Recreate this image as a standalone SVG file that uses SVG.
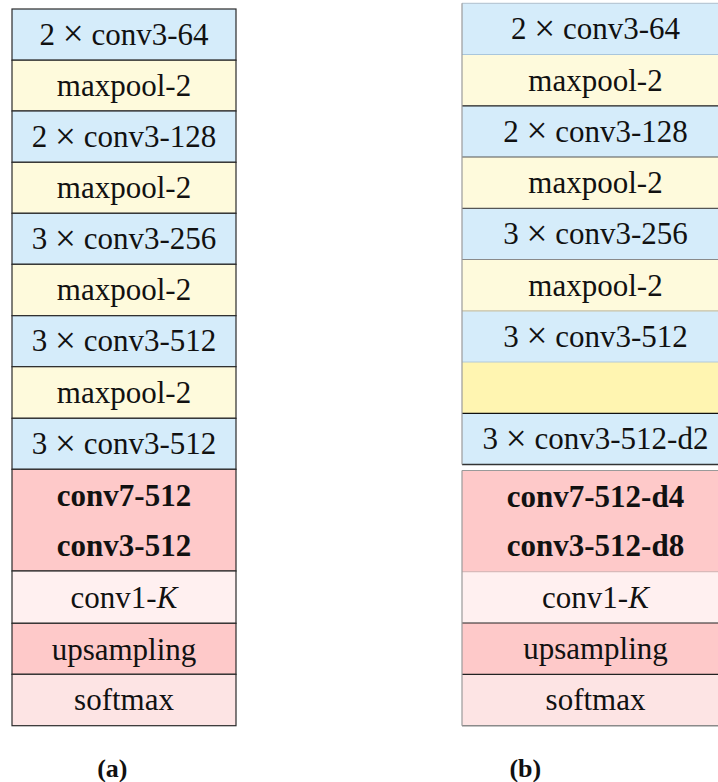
<svg xmlns="http://www.w3.org/2000/svg" width="718" height="782" viewBox="0 0 718 782">
<style>
  .t { font-family: "Liberation Serif", "Times New Roman", serif; font-size: 31px; fill: #111; text-anchor: middle; }
  .b { font-weight: bold; }
  .x { font-size: 37px; }
  .cap { font-family: "Liberation Serif", "Times New Roman", serif; font-size: 26px; font-weight: bold; fill: #111; text-anchor: middle; }
  .blue { fill: #d5ecfa; }
  .cream { fill: #fefadc; }
  .yel { fill: #fff5b1; }
  .pink { fill: #fec9c9; }
  .lpink { fill: #fff0f0; }
  .spink { fill: #fde4e4; }
  .L rect { stroke: #2b2b2b; stroke-width: 1.2; }
  .R rect { stroke: none; }
  .ln { stroke-width: 1.2; fill: none; }
</style>
<rect width="718" height="782" fill="#ffffff"/>

<!-- Column (a) -->
<g class="L">
  <g id="a1"><rect class="blue" x="12" y="9" width="224" height="51.2"/><text class="t" x="124" y="44.6">2 <tspan class="x" dy="1.5">×</tspan><tspan dy="-1.5"> conv3-64</tspan></text></g>
  <g id="a2"><rect class="cream" x="12" y="60.2" width="224" height="50.8"/><text class="t" x="124" y="95.8">maxpool-2</text></g>
  <g id="a3"><rect class="blue" x="12" y="111" width="224" height="51.3"/><text class="t" x="124" y="147">2 <tspan class="x" dy="1.5">×</tspan><tspan dy="-1.5"> conv3-128</tspan></text></g>
  <g id="a4"><rect class="cream" x="12" y="162.3" width="224" height="51"/><text class="t" x="124" y="198">maxpool-2</text></g>
  <g id="a5"><rect class="blue" x="12" y="213.3" width="224" height="51"/><text class="t" x="124" y="249">3 <tspan class="x" dy="1.5">×</tspan><tspan dy="-1.5"> conv3-256</tspan></text></g>
  <g id="a6"><rect class="cream" x="12" y="264.3" width="224" height="51.4"/><text class="t" x="124" y="300.2">maxpool-2</text></g>
  <g id="a7"><rect class="blue" x="12" y="315.7" width="224" height="51"/><text class="t" x="124" y="351.4">3 <tspan class="x" dy="1.5">×</tspan><tspan dy="-1.5"> conv3-512</tspan></text></g>
  <g id="a8"><rect class="cream" x="12" y="366.7" width="224" height="51.6"/><text class="t" x="124" y="402.7">maxpool-2</text></g>
  <g id="a9"><rect class="blue" x="12" y="418.3" width="224" height="51"/><text class="t" x="124" y="454">3 <tspan class="x" dy="1.5">×</tspan><tspan dy="-1.5"> conv3-512</tspan></text></g>
  <g id="a10"><rect class="pink" x="12" y="469.3" width="224" height="101.7"/>
    <text class="t b" x="124" y="506">conv7-512</text>
    <text class="t b" x="124" y="555.7">conv3-512</text></g>
  <g id="a11"><rect class="lpink" x="12" y="571" width="224" height="52.3"/><text class="t" x="124" y="607.8">conv1-<tspan font-style="italic">K</tspan></text></g>
  <g id="a12"><rect class="pink" x="12" y="623.3" width="224" height="51"/><text class="t" x="124" y="659.6">upsampling</text></g>
  <g id="a13"><rect class="spink" x="12" y="674.3" width="224" height="51.4"/><text class="t" x="124" y="710.3">softmax</text></g>
</g>

<!-- Column (b) -->
<g class="R">
  <g id="b1"><rect class="blue" x="462" y="3.3" width="267" height="51.2"/><text class="t" x="595.5" y="39.4">2 <tspan class="x" dy="1.5">×</tspan><tspan dy="-1.5"> conv3-64</tspan></text></g>
  <g id="b2"><rect class="cream" x="462" y="54.5" width="267" height="51.3"/><text class="t" x="595.5" y="90.6">maxpool-2</text></g>
  <g id="b3"><rect class="blue" x="462" y="105.8" width="267" height="51.2"/><text class="t" x="595.5" y="141.9">2 <tspan class="x" dy="1.5">×</tspan><tspan dy="-1.5"> conv3-128</tspan></text></g>
  <g id="b4"><rect class="cream" x="462" y="157" width="267" height="51.3"/><text class="t" x="595.5" y="193.1">maxpool-2</text></g>
  <g id="b5"><rect class="blue" x="462" y="208.3" width="267" height="51.2"/><text class="t" x="595.5" y="244.4">3 <tspan class="x" dy="1.5">×</tspan><tspan dy="-1.5"> conv3-256</tspan></text></g>
  <g id="b6"><rect class="cream" x="462" y="259.5" width="267" height="51.3"/><text class="t" x="595.5" y="295.6">maxpool-2</text></g>
  <g id="b7"><rect class="blue" x="462" y="310.8" width="267" height="51.2"/><text class="t" x="595.5" y="346.9">3 <tspan class="x" dy="1.5">×</tspan><tspan dy="-1.5"> conv3-512</tspan></text></g>
  <g id="b8"><rect class="yel" x="462" y="362" width="267" height="51.3"/></g>
  <g id="b9"><rect class="blue" x="462" y="413.3" width="267" height="51.2"/><text class="t" x="595.5" y="449.4">3 <tspan class="x" dy="1.5">×</tspan><tspan dy="-1.5"> conv3-512-d2</tspan></text></g>
  <g id="b10"><rect class="pink" x="462" y="470.5" width="267" height="101.2"/>
    <text class="t b" x="595.5" y="506.5">conv7-512-d4</text>
    <text class="t b" x="595.5" y="555.5">conv3-512-d8</text></g>
  <g id="b11"><rect class="lpink" x="462" y="571.7" width="267" height="51.3"/><text class="t" x="595.5" y="608.3">conv1-<tspan font-style="italic">K</tspan></text></g>
  <g id="b12"><rect class="pink" x="462" y="623" width="267" height="51.3"/><text class="t" x="595.5" y="659.4">upsampling</text></g>
  <g id="b13"><rect class="spink" x="462" y="674.3" width="267" height="51.4"/><text class="t" x="595.5" y="710.2">softmax</text></g>
</g>

<!-- Column (b) borders -->
<g id="borders" class="ln">
  <line x1="462" y1="3.3" x2="718" y2="3.3" stroke="#b9c9d6"/>
  <line x1="462" y1="54.5" x2="718" y2="54.5" stroke="#a9c6dc"/>
  <line x1="462" y1="105.8" x2="718" y2="105.8" stroke="#1e1e1e"/>
  <line x1="462" y1="157" x2="718" y2="157" stroke="#555555"/>
  <line x1="462" y1="208.3" x2="718" y2="208.3" stroke="#555555"/>
  <line x1="462" y1="259.5" x2="718" y2="259.5" stroke="#8a8a8a"/>
  <line x1="462" y1="310.8" x2="718" y2="310.8" stroke="#c9c2a4"/>
  <line x1="462" y1="362" x2="718" y2="362" stroke="#b3c9da"/>
  <line x1="462" y1="413.3" x2="718" y2="413.3" stroke="#111111"/>
  <line x1="462" y1="464.5" x2="718" y2="464.5" stroke="#333333" stroke-width="1.5"/>
  <line x1="462" y1="470.5" x2="718" y2="470.5" stroke="#9a9a9a"/>
  <line x1="462" y1="571.7" x2="718" y2="571.7" stroke="#d9b9b9"/>
  <line x1="462" y1="623" x2="718" y2="623" stroke="#222222"/>
  <line x1="462" y1="674.3" x2="718" y2="674.3" stroke="#222222"/>
  <line x1="462" y1="725.7" x2="718" y2="725.7" stroke="#8a8a8a" stroke-width="1.5"/>
  <line x1="462" y1="3.3" x2="462" y2="464.5" stroke="#9a9a9a"/>
  <line x1="462" y1="470.5" x2="462" y2="725.7" stroke="#9a9a9a"/>
</g>

<!-- Captions -->
<text class="cap" x="112.3" y="776.7">(a)</text>
<text class="cap" x="525.3" y="776.7">(b)</text>
</svg>
